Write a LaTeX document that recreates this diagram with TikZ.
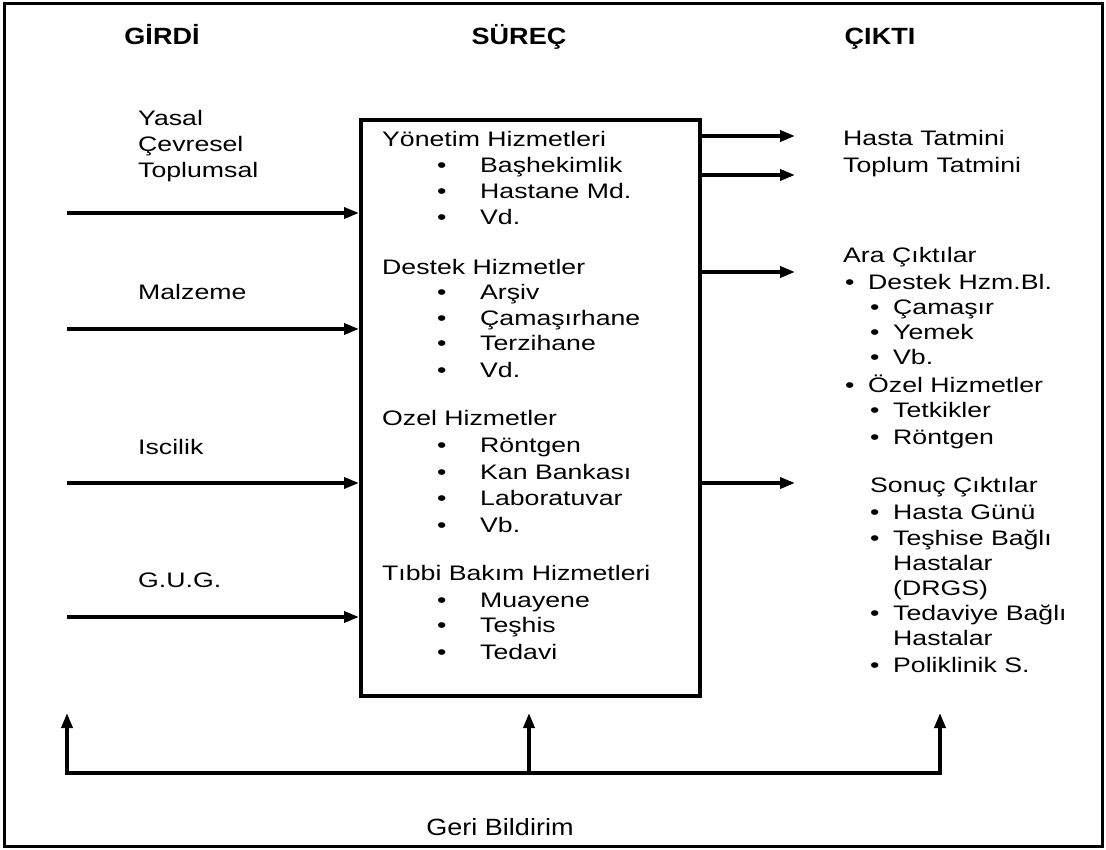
\documentclass[tikz,border=0pt]{standalone}
\usepackage{fontspec}
\setmainfont[FakeStretch=1.27]{Liberation Sans}
\newfontfamily\headfont[FakeStretch=1.15]{Liberation Sans}
\newfontfamily\plainfont[FakeStretch=1.15]{Liberation Sans}
\usetikzlibrary{arrows.meta}
\begin{document}
\begin{tikzpicture}[x=1pt,y=-1pt,
  txt/.style={anchor=west,inner sep=0pt,font=\fontsize{21}{26}\selectfont,text height=15pt,text depth=0pt},
  head/.style={anchor=base,inner sep=0pt,font=\headfont\bfseries\fontsize{23.5}{28}\selectfont},
  arr/.style={line width=3.5pt,-{Triangle[length=15pt,width=11pt]}},
]
\useasboundingbox (0,0) rectangle (1106,850);
\fill[white] (0,0) rectangle (1106,850);
% outer frame
\draw[line width=3pt] (4,4) rectangle (1102,846);

% column headings
\node[head] (hIn)   at (162,45) {GİRDİ};
\node[head] (hProc) at (519,45) {SÜREÇ};
\node[head] (hOut)  at (880,45) {ÇIKTI};

% process box
\node[draw,line width=4pt,inner sep=0pt,minimum width=339pt,minimum height=576pt,anchor=north west] (proc) at (359,118) {};

% inputs
\node[txt] (yasal) at (138,118) {Yasal};
\node[txt] (cevre) at (138,144) {Çevresel};
\node[txt] (toplu) at (138,170) {Toplumsal};
\node[txt] (malz)  at (138,292) {Malzeme};
\node[txt] (iscil) at (138,447) {Iscilik};
\node[txt] (gug)   at (138,580) {G.U.G.};

\coordinate (inA) at (67,213);
\coordinate (inB) at (67,329);
\coordinate (inC) at (67,483);
\coordinate (inD) at (67,617);
\foreach \c in {inA,inB,inC,inD}
  \draw[arr] (\c) -- (proc.west |- \c);

% process contents
\node[txt] (s1) at (382,139) {Yönetim Hizmetleri};
\node[txt] (s1b1) at (437,165) {•};  \node[txt] (s1t1) at (480,165) {Başhekimlik};
\node[txt] (s1b2) at (437,191) {•};  \node[txt] (s1t2) at (480,191) {Hastane Md.};
\node[txt] (s1b3) at (437,217) {•};  \node[txt] (s1t3) at (480,217) {Vd.};

\node[txt] (s2) at (382,267) {Destek Hizmetler};
\node[txt] (s2b1) at (437,292) {•};  \node[txt] (s2t1) at (480,292) {Arşiv};
\node[txt] (s2b2) at (437,318) {•};  \node[txt] (s2t2) at (480,318) {Çamaşırhane};
\node[txt] (s2b3) at (437,343) {•};  \node[txt] (s2t3) at (480,343) {Terzihane};
\node[txt] (s2b4) at (437,370) {•};  \node[txt] (s2t4) at (480,370) {Vd.};

\node[txt] (s3) at (382,418) {Ozel Hizmetler};
\node[txt] (s3b1) at (437,445) {•};  \node[txt] (s3t1) at (480,445) {Röntgen};
\node[txt] (s3b2) at (437,472) {•};  \node[txt] (s3t2) at (480,472) {Kan Bankası};
\node[txt] (s3b3) at (437,498) {•};  \node[txt] (s3t3) at (480,498) {Laboratuvar};
\node[txt] (s3b4) at (437,525) {•};  \node[txt] (s3t4) at (480,525) {Vb.};

\node[txt] (s4) at (382,573) {Tıbbi Bakım Hizmetleri};
\node[txt] (s4b1) at (437,600) {•};  \node[txt] (s4t1) at (480,600) {Muayene};
\node[txt] (s4b2) at (437,625) {•};  \node[txt] (s4t2) at (480,625) {Teşhis};
\node[txt] (s4b3) at (437,652) {•};  \node[txt] (s4t3) at (480,652) {Tedavi};

% outputs
\coordinate (outA) at (795,136);
\coordinate (outB) at (795,175);
\coordinate (outC) at (795,272);
\coordinate (outD) at (795,483);
\foreach \c in {outA,outB,outC,outD}
  \draw[arr] (proc.east |- \c) -- (\c);

\node[txt] (o1) at (843,138) {Hasta Tatmini};
\node[txt] (o2) at (843,165) {Toplum Tatmini};

\node[txt] (o3) at (843,255) {Ara Çıktılar};
\node[txt] (o3b1) at (845,282) {•};  \node[txt] (o3t1) at (868,282) {Destek Hzm.Bl.};
\node[txt] (o3b2) at (870,307) {•};  \node[txt] (o3t2) at (893,307) {Çamaşır};
\node[txt] (o3b3) at (870,332) {•};  \node[txt] (o3t3) at (893,332) {Yemek};
\node[txt] (o3b4) at (870,357) {•};  \node[txt] (o3t4) at (893,357) {Vb.};
\node[txt] (o3b5) at (845,385) {•};  \node[txt] (o3t5) at (868,385) {Özel Hizmetler};
\node[txt] (o3b6) at (870,410) {•};  \node[txt] (o3t6) at (893,410) {Tetkikler};
\node[txt] (o3b7) at (870,437) {•};  \node[txt] (o3t7) at (893,437) {Röntgen};

\node[txt] (o4) at (870,485) {Sonuç Çıktılar};
\node[txt] (o4b1) at (870,512) {•};  \node[txt] (o4t1) at (893,512) {Hasta Günü};
\node[txt] (o4b2) at (870,538) {•};  \node[txt] (o4t2) at (893,538) {Teşhise Bağlı};
                                     \node[txt] (o4t3) at (893,563) {Hastalar};
                                     \node[txt] (o4t4) at (893,588) {(DRGS)};
\node[txt] (o4b3) at (870,613) {•};  \node[txt] (o4t5) at (893,613) {Tedaviye Bağlı};
                                     \node[txt] (o4t6) at (893,638) {Hastalar};
\node[txt] (o4b4) at (870,665) {•};  \node[txt] (o4t7) at (893,665) {Poliklinik S.};

% feedback loop
\coordinate (fbL) at (67,773);
\coordinate (fbM) at (529,773);
\coordinate (fbR) at (940,773);
\coordinate (tL) at (67,713);
\coordinate (tM) at (529,713);
\coordinate (tR) at (940,713);
\draw[line width=3.5pt,line cap=rect] (fbL) -- (fbR);
\draw[arr] (fbL) -- (tL);
\draw[arr] (fbM) -- (tM);
\draw[arr] (fbR) -- (tR);
\node[anchor=base,inner sep=0pt,font=\plainfont\fontsize{23.5}{28}\selectfont] (geri) at (500,835) {Geri Bildirim};
\end{tikzpicture}
\end{document}
